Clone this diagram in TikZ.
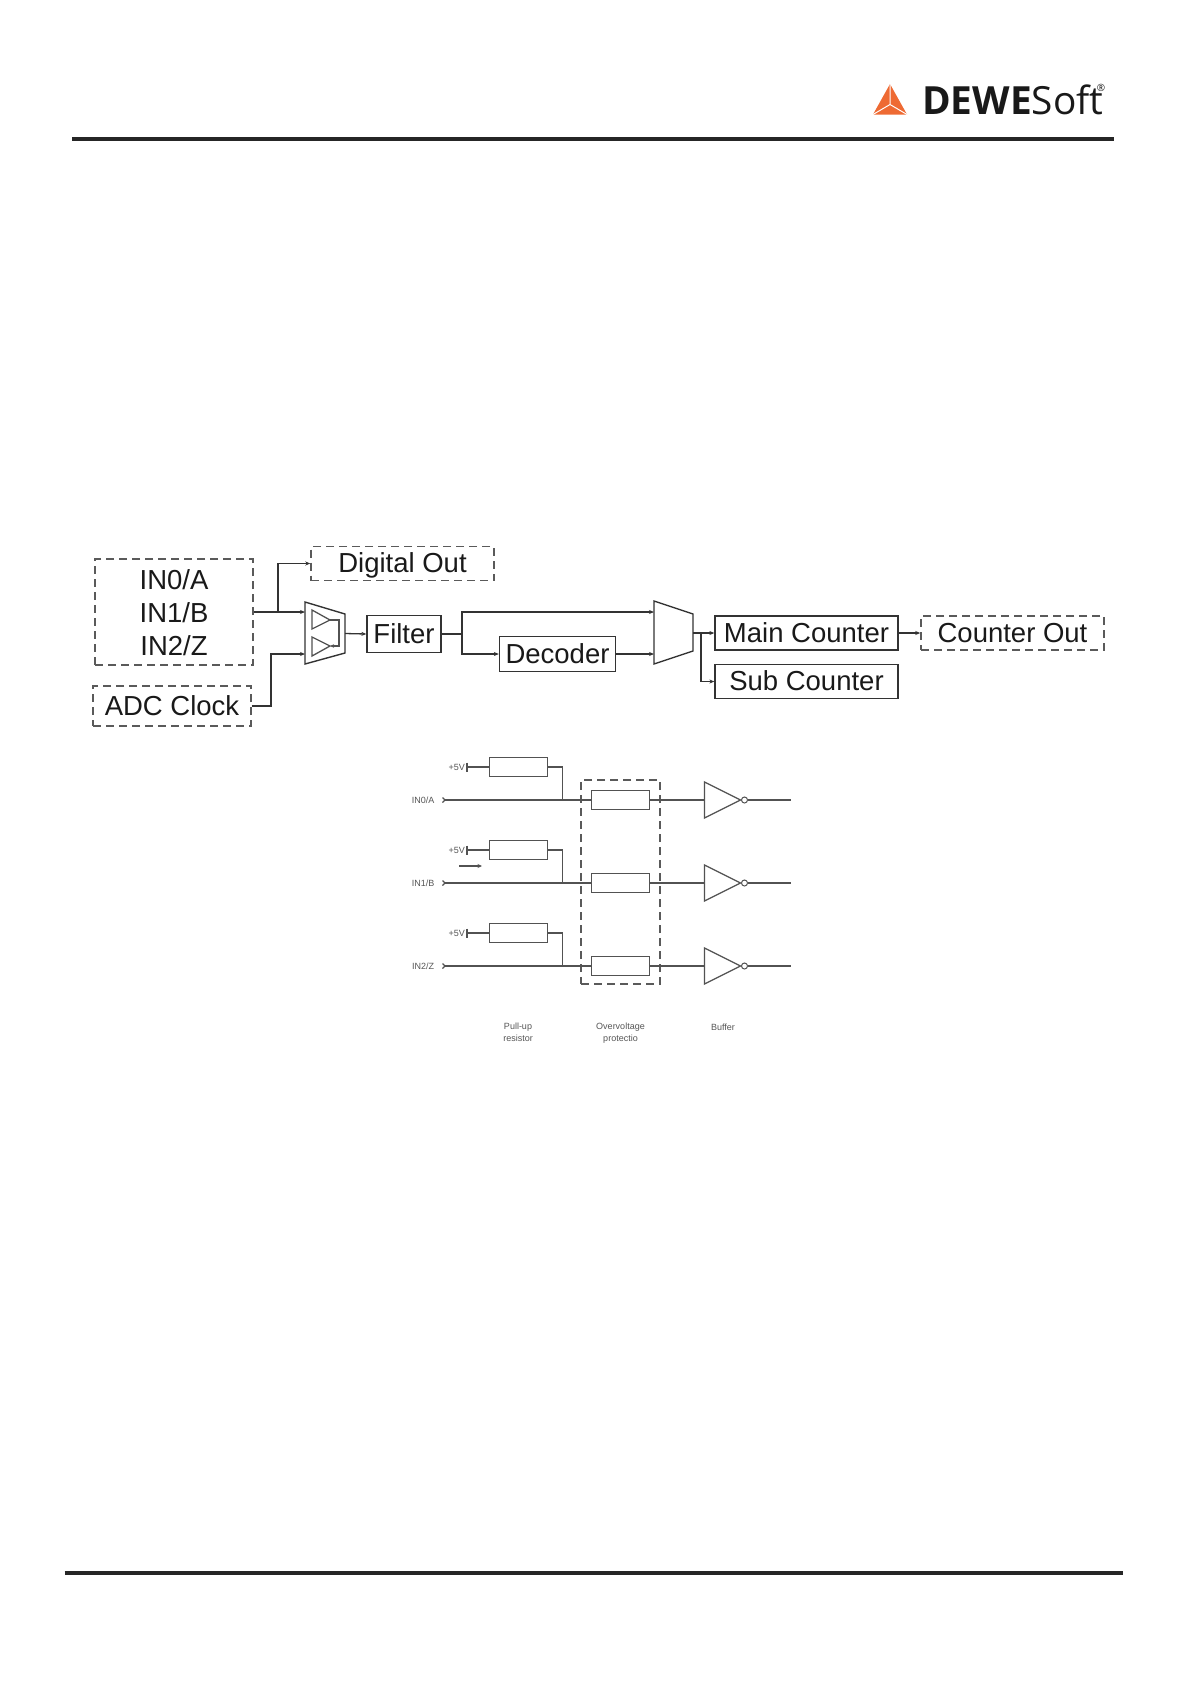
\documentclass[tikz,border=0pt]{standalone}
\usepackage{fontspec}
\setmainfont{Liberation Sans}
\newfontfamily\logofont{Open Sans}
\definecolor{ink}{HTML}{333333}
\definecolor{dashc}{HTML}{5A5A5A}
\definecolor{smallc}{HTML}{555555}
\definecolor{logoc}{HTML}{EE6A33}
\usetikzlibrary{arrows.meta,calc}
\tikzset{
  big/.style={font=\fontsize{27.5}{33}\selectfont,text=black!90,inner sep=0pt,align=center},
  oneline/.style={text height=18.5pt,text depth=0pt},
  solidbox/.style={big,oneline,draw=ink,line width=1.3pt},
  dashbox/.style={big,draw=dashc,line width=1.5pt,dash pattern=on 8pt off 5pt},
  wire/.style={draw=ink,line width=1.3pt},
  arrowed/.style={wire,-{Stealth[length=5pt,width=4pt]}},
  rule/.style={draw=black!85,line width=3.2pt},
  small/.style={font=\fontsize{9}{11.5}\selectfont,text=smallc,inner sep=0pt,align=center},
  res/.style={draw=ink!85,line width=1.3pt,minimum width=58pt,minimum height=19pt,inner sep=0pt},
  thin/.style={draw=ink!85,line width=1.3pt},
}
\begin{document}
\begin{tikzpicture}[x=1pt,y=-1pt]
\useasboundingbox (0,0) rectangle (1192,1686);
% rules
\coordinate (ruleTL) at (72,139); \coordinate (ruleTR) at (1113.5,139);
\coordinate (ruleBL) at (64.5,1573); \coordinate (ruleBR) at (1122.5,1573);
\draw[rule] (ruleTL) -- (ruleTR);
\draw[rule] (ruleBL) -- (ruleBR);
% logo
\fill[logoc] (890,84) -- (907,114.5) -- (873,114.5) -- cycle;
\draw[white,line width=1pt] (890,84) -- (890,104.5) -- (907,114.5) (890,104.5) -- (873,114.5);
\node[anchor=base west,inner sep=0pt,font=\logofont\fontsize{38.8}{40}\selectfont,text=black!90] (logo) at (922,114) {\textbf{DEWE}Soft};
\node[inner sep=0pt,font=\logofont\fontsize{10}{10}\selectfont,text=black!90] (logoreg) at (1101,88) {®};
% upper block diagram
\node[dashbox,minimum width=158pt,minimum height=106pt] (inp) at (174,612) {\rule{0pt}{22pt}IN0/A\\[0pt]IN1/B\\[0pt]IN2/Z};
\node[dashbox,oneline,minimum width=183pt,minimum height=34pt] (dout) at (402.5,563.5) {Digital Out};
\node[dashbox,oneline,minimum width=158pt,minimum height=40pt] (adc) at (172,706) {ADC Clock};
\node[solidbox,minimum width=74pt,minimum height=37pt] (filter) at (404,634) {Filter};
\node[solidbox,minimum width=116pt,minimum height=35pt] (dec) at (557.5,654) {Decoder};
\node[solidbox,minimum width=183pt,minimum height=34pt] (mainc) at (806.5,633) {Main Counter};
\node[solidbox,minimum width=183pt,minimum height=34pt] (subc) at (806.5,681.5) {Sub Counter};
\node[dashbox,oneline,minimum width=183pt,minimum height=34pt] (cout) at (1012.5,633) {Counter Out};
% first mux
\coordinate (m1a) at (305,602); \coordinate (m1b) at (345,614); \coordinate (m1c) at (345,653); \coordinate (m1d) at (305,664);
\draw[wire,line width=1.4pt] (m1a) -- (m1b) -- (m1c) -- (m1d) -- cycle;
\coordinate (t1a) at (312,610); \coordinate (t1b) at (330,620); \coordinate (t1c) at (312,629);
\coordinate (t2a) at (312,637); \coordinate (t2b) at (330,646); \coordinate (t2c) at (312,656);
\draw[thin] (t1a) -- (t1b) -- (t1c) -- cycle;
\draw[thin] (t2a) -- (t2b) -- (t2c) -- cycle;
\draw[thin,-{Stealth[length=4pt,width=3.5pt]}] (t1b) -- (339,620) -- (339,646) -- (t2b);
\coordinate (m1in) at (305,612); \coordinate (m1ck) at (305,654); \coordinate (m1out) at (345,633.5);
\coordinate (br1) at (278,612);
\coordinate (br2) at (462,634);
\draw[arrowed] (inp.east |- m1in) -- (m1in);
\draw[arrowed] (br1) |- (dout.west);
\draw[arrowed] (adc.east) -| (271,654) -- (m1ck);
\draw[arrowed] (m1out) -- (filter.west);
% second mux
\coordinate (m2a) at (654,601); \coordinate (m2b) at (693,614); \coordinate (m2c) at (693,651); \coordinate (m2d) at (654,664);
\draw[wire,line width=1.4pt] (m2a) -- (m2b) -- (m2c) -- (m2d) -- cycle;
\coordinate (m2top) at (654,612); \coordinate (m2bot) at (654,654); \coordinate (m2out) at (693,633);
\draw[wire] (filter.east) -- (br2);
\draw[arrowed] (br2) |- (m2top);
\draw[arrowed] (br2) |- (dec.west);
\draw[arrowed] (dec.east) -- (m2bot);
\draw[arrowed] (m2out) -- (mainc.west);
\draw[arrowed] (701,633) |- (subc.west);
\draw[arrowed] (mainc.east) -- (cout.west);
% lower schematic
\node[draw=dashc,line width=1.4pt,dash pattern=on 8pt off 5pt,minimum width=79pt,minimum height=204pt,inner sep=0pt] (ovp) at (620.5,882) {};
\foreach \i/\y/\lab in {0/800/{IN0/A},1/883/{IN1/B},2/966/{IN2/Z}}{
  \node[small,anchor=center] (lab\i) at (423,\y) {\lab};
  \coordinate (start\i) at (445,\y);
  \coordinate (end\i) at (791,\y);
  \node[res] (pull\i) at (518.5,\y-33) {};
  \node[res] (over\i) at (620.5,\y) {};
  \node[small,anchor=east] (vcc\i) at (465,\y-33) {+5V};
  \coordinate (bar\i) at (467,\y-33);
  \coordinate (join\i) at (562.5,\y);
  \coordinate (tria\i) at (704.5,\y-18);
  \coordinate (trib\i) at (704.5,\y+18);
  \coordinate (tric\i) at (740.5,\y);
  \coordinate (trim\i) at (704.5,\y);
  \node[circle,draw=ink!85,line width=1pt,minimum size=6pt,inner sep=0pt] (inv\i) at (744.5,\y) {};
  \draw[thin] ($(start\i)+(-2.5,-2.5)$) -- (start\i) -- ($(start\i)+(-2.5,2.5)$);
  \draw[thin] (start\i) -- (over\i.west);
  \draw[thin] ($(bar\i)+(0,-4.5)$) -- ($(bar\i)+(0,4.5)$);
  \draw[thin] (bar\i) -- (pull\i.west);
  \draw[thin] (pull\i.east) -| (join\i);
  \draw[thin] (over\i.east) -- (trim\i);
  \draw[thin] (tria\i) -- (tric\i) -- (trib\i) -- cycle;
  \draw[thin] (inv\i.east) -- (end\i);
}
\coordinate (flowa) at (459,866); \coordinate (flowb) at (482,866);
\draw[thin,-{Stealth[length=4.5pt,width=4pt]}] (flowa) -- (flowb);
\node[small] (cap1) at (518,1032.5) {Pull-up\\resistor};
\node[small] (cap2) at (620.5,1033) {Overvoltage\\protectio};
\node[small] (cap3) at (723,1027) {Buffer};
\end{tikzpicture}
\end{document}
